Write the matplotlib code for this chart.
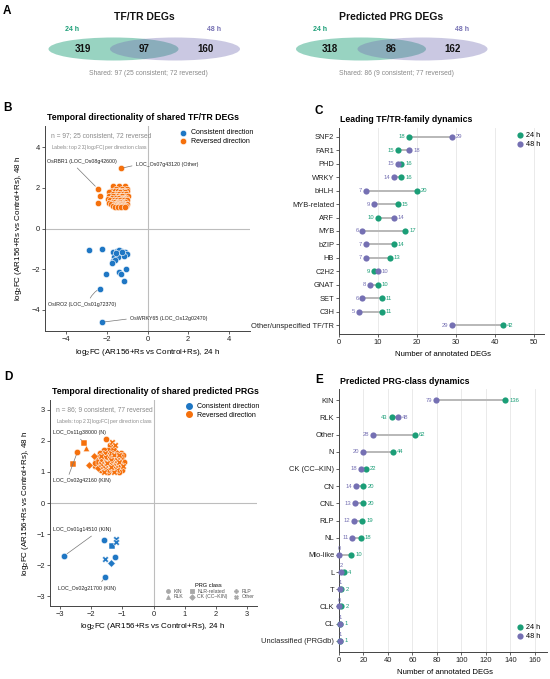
import numpy as np
import matplotlib
matplotlib.use("Agg")
import matplotlib.pyplot as plt
from matplotlib.patches import Ellipse
from matplotlib.lines import Line2D

plt.rcParams['font.family'] = ['Liberation Sans', 'DejaVu Sans']
plt.rcParams['mathtext.default'] = 'regular'

W, H = 550, 679

GREEN = "#1b9e77"
PURPLE = "#7570b3"
BLUE = "#1f77c4"
ORANGE = "#f5700c"
GRAYTXT = "#8a8a8a"

# -------------------------
# DATA
# -------------------------

# A: venn counts
venn_titles = ["TF/TR DEGs", "Predicted PRG DEGs"]
venn_only24 = [319, 318]
venn_shared = [97, 86]
venn_only48 = [160, 162]
venn_consistent = [25, 9]
venn_reversed = [72, 77]

# B: shared TF/TR DEGs, log2FC 24 h (x) vs 48 h (y)
b_cons_x = [-2.90, -2.26, -1.68, -1.51, -1.30, -1.09, -1.43, -1.22, -1.02,
            -1.63, -1.47, -1.71, -1.58, -1.74, -2.04, -1.42, -1.05, -1.30,
            -1.14, -2.34, -2.26, -1.38, -1.18, -1.55, -1.25]
b_cons_y = [-1.05, -1.03, -1.16, -1.13, -1.11, -1.18, -1.28, -1.28, -1.28,
            -1.41, -1.38, -1.61, -1.54, -1.69, -2.23, -2.15, -2.01, -2.26,
            -2.60, -2.96, -4.62, -1.08, -1.35, -1.22, -1.18]
b_rev_x = [-2.45, -2.34, -2.45, -1.33,
           -1.68, -1.40, -1.10,
           -1.55, -1.25, -1.02,
           -1.80, -1.62, -1.45, -1.30, -1.15, -1.00,
           -1.92, -1.35, -1.12,
           -1.70, -1.52, -1.38, -1.20, -1.05,
           -1.88, -1.60, -1.45, -1.30, -1.12, -0.98,
           -1.68, -1.25,
           -1.75, -1.55, -1.40, -1.22, -1.08,
           -1.95, -1.28, -1.12,
           -1.85, -1.65, -1.50, -1.35, -1.18, -1.02,
           -1.72, -1.58, -1.42, -1.28, -1.10,
           -1.90, -1.50, -1.20,
           -1.80, -1.62, -1.48, -1.33, -1.18, -1.02,
           -1.55, -1.40, -1.15,
           -1.70, -1.52, -1.38, -1.22, -1.08,
           -1.60, -1.45, -1.30, -1.12]
b_rev_y = [1.96, 1.61, 1.25, 2.96,
           2.08, 2.08, 2.08,
           1.95, 1.95, 1.95,
           1.85, 1.85, 1.85, 1.85, 1.85, 1.85,
           1.78, 1.78, 1.78,
           1.72, 1.72, 1.72, 1.72, 1.72,
           1.62, 1.62, 1.62, 1.62, 1.62, 1.62,
           1.58, 1.58,
           1.52, 1.52, 1.52, 1.52, 1.52,
           1.47, 1.47, 1.47,
           1.42, 1.42, 1.42, 1.42, 1.42, 1.42,
           1.32, 1.32, 1.32, 1.32, 1.32,
           1.28, 1.28, 1.28,
           1.22, 1.22, 1.22, 1.22, 1.22, 1.22,
           1.17, 1.17, 1.17,
           1.12, 1.12, 1.12, 1.12, 1.12,
           1.04, 1.04, 1.04, 1.04]
# labelled genes: text, point, text position
b_lab_text = ["OsRBR1 (LOC_Os08g42600)", "LOC_Os07g43120 (Other)",
              "OsIRO2 (LOC_Os01g72370)", "OsWRKY65 (LOC_Os12g02470)"]
b_lab_pt = [(-2.45, 1.96), (-1.33, 2.96), (-2.34, -2.96), (-2.26, -4.62)]
b_lab_xy = [(-4.95, 3.29), (-0.56, 3.13), (-4.92, -3.75), (-0.84, -4.44)]

# C: TF/TR families
tf_families = ["SNF2", "FAR1", "PHD", "WRKY", "bHLH", "MYB-related", "ARF",
               "MYB", "bZIP", "HB", "C2H2", "GNAT", "SET", "C3H",
               "Other/unspecified TF/TR"]
tf_24h = [18, 15, 16, 16, 20, 15, 10, 17, 14, 13, 9, 10, 11, 11, 42]
tf_48h = [29, 18, 15, 14, 7, 9, 14, 6, 7, 7, 10, 8, 6, 5, 29]

# D: shared predicted PRGs
prg_marker_names = ["KIN", "RLK", "NLR-related", "CK (CC\u2013KIN)", "RLP", "Other"]
prg_marker_shapes = ["o", "^", "s", "D", "P", "X"]
d_cons_x = [-2.86, -1.55, -1.59, -1.34, -1.21, -1.21, -1.25, -1.55, -1.36]
d_cons_y = [-1.70, -2.38, -1.19, -1.37, -1.15, -1.26, -1.74, -1.82, -1.92]
d_cons_cls = ["KIN", "KIN", "KIN", "NLR-related", "Other", "Other", "KIN",
              "Other", "CK (CC\u2013KIN)"]
d_rev_x = [-2.23, -2.44, -2.59, -2.16, -1.52, -1.91, -2.06,
           -1.32,
           -1.23, -1.40,
           -1.26, -1.45, -1.60,
           -1.72, -1.55, -1.35, -1.18, -1.05,
           -1.62, -1.48, -1.28, -1.10, -0.98,
           -1.78, -1.56, -1.40, -1.22, -1.05,
           -1.85, -1.68, -1.50, -1.35, -1.18, -1.00,
           -1.75, -1.60, -1.42, -1.27, -1.12, -0.95,
           -1.70, -1.52, -1.38, -1.22, -1.06,
           -1.88, -1.62, -1.45, -1.30, -1.15, -0.98,
           -1.78, -1.55, -1.40, -1.25, -1.08,
           -1.68, -1.50, -1.35, -1.18, -1.02,
           -1.60, -1.45, -1.28, -1.10,
           -1.62, -1.28, -1.12,
           -1.88, -1.48, -1.20,
           -1.70, -1.35, -1.20,
           -1.70, -1.35, -1.15]
d_rev_y = [1.94, 1.65, 1.25, 1.76, 2.07, 1.52, 1.22,
           1.97,
           1.86, 1.86,
           1.72, 1.72, 1.72,
           1.62, 1.62, 1.62, 1.62, 1.62,
           1.55, 1.55, 1.55, 1.55, 1.55,
           1.48, 1.48, 1.48, 1.48, 1.48,
           1.40, 1.40, 1.40, 1.40, 1.40, 1.40,
           1.33, 1.33, 1.33, 1.33, 1.33, 1.33,
           1.25, 1.25, 1.25, 1.25, 1.25,
           1.18, 1.18, 1.18, 1.18, 1.18, 1.18,
           1.12, 1.12, 1.12, 1.12, 1.12,
           1.06, 1.06, 1.06, 1.06, 1.06,
           1.00, 1.00, 1.00, 1.00,
           1.43, 1.43, 1.43,
           1.30, 1.30, 1.30,
           1.15, 1.15, 1.15,
           1.52, 1.52, 1.52]
d_rev_cls = ["NLR-related", "KIN", "NLR-related", "RLK", "KIN",
             "CK (CC\u2013KIN)", "CK (CC\u2013KIN)",
             "Other",
             "Other", "KIN",
             "NLR-related", "KIN", "KIN",
             "KIN", "Other", "Other", "CK (CC\u2013KIN)", "KIN",
             "KIN", "NLR-related", "Other", "Other", "KIN",
             "KIN", "Other", "CK (CC\u2013KIN)", "KIN", "NLR-related",
             "KIN", "Other", "KIN", "Other", "Other", "KIN",
             "NLR-related", "KIN", "RLP", "KIN", "Other", "KIN",
             "Other", "KIN", "Other", "CK (CC\u2013KIN)", "KIN",
             "KIN", "Other", "KIN", "Other", "NLR-related", "Other",
             "CK (CC\u2013KIN)", "Other", "KIN", "Other", "KIN",
             "KIN", "Other", "KIN", "Other", "KIN",
             "Other", "KIN", "Other", "KIN",
             "KIN", "KIN", "KIN",
             "KIN", "Other", "KIN",
             "KIN", "Other", "KIN",
             "Other", "KIN", "KIN"]
d_lab_text = ["LOC_Os11g38000 (N)", "LOC_Os02g42160 (KIN)",
              "LOC_Os01g14510 (KIN)", "LOC_Os02g21700 (KIN)"]
d_lab_pt = [(-2.23, 1.94), (-2.44, 1.65), (-2.86, -1.70), (-1.55, -2.38)]
d_lab_xy = [(-3.22, 2.26), (-3.22, 0.71), (-3.23, -0.87), (-3.05, -2.74)]

# E: PRG classes
prg_classes = ["KIN", "RLK", "Other", "N", "CK (CC\u2013KIN)", "CN", "CNL",
               "RLP", "NL", "Mlo-like", "L", "T", "CLK", "CL",
               "Unclassified (PRGdb)"]
prg_24h = [136, 43, 62, 44, 22, 20, 20, 19, 18, 10, 4, 2, 2, 1, 1]
prg_48h = [79, 48, 28, 20, 18, 14, 13, 12, 11, 0, 2, 1, 0, 1, 1]


# -------------------------
# HELPERS
# -------------------------

def px_axes(l, t, r, b):
    return fig.add_axes([l / W, 1 - b / H, (r - l) / W, (b - t) / H])


def ftext(x, y, s, **kw):
    fig.text(x / W, 1 - y / H, s, **kw)


def style_axes(ax):
    for side in ["top", "right"]:
        ax.spines[side].set_visible(False)
    for side in ["left", "bottom"]:
        ax.spines[side].set_linewidth(0.7)
        ax.spines[side].set_color("#444444")
    ax.tick_params(labelsize=5.4, length=2, width=0.5, pad=1.5, colors="#222222")


def dumbbell(ax, cats, v24, v48, xmax, legend_loc, anchor):
    y = np.arange(len(cats))
    for i in range(len(cats)):
        ax.plot([v24[i], v48[i]], [i, i], color="#b8b8b8", lw=1.4,
                zorder=1, solid_capstyle="butt")
    ax.scatter(v24, y, s=20, color=GREEN, zorder=3, label="24 h",
               clip_on=False, linewidths=0)
    ax.scatter(v48, y, s=20, color=PURPLE, zorder=3, label="48 h",
               clip_on=False, linewidths=0)
    for i in range(len(cats)):
        pairs = sorted([(v24[i], 1, GREEN), (v48[i], 0, PURPLE)])
        lo, hi = pairs
        if lo[0] < 0.04 * xmax:
            ax.annotate(str(lo[0]), (lo[0], i), xytext=(0, 2.8),
                        textcoords="offset points", ha="center", va="bottom",
                        fontsize=4.2, color=lo[2])
        else:
            ax.annotate(str(lo[0]), (lo[0], i), xytext=(-2.8, 0),
                        textcoords="offset points", ha="right", va="center",
                        fontsize=4.2, color=lo[2])
        ax.annotate(str(hi[0]), (hi[0], i), xytext=(2.8, 0),
                    textcoords="offset points", ha="left", va="center",
                    fontsize=4.2, color=hi[2])
    ax.set_yticks(y)
    ax.set_yticklabels(cats)
    ax.set_ylim(len(cats) - 0.35, -0.65)
    ax.set_xlim(0, xmax)
    ax.grid(axis="x", color="#e6e6e6", lw=0.6)
    ax.set_axisbelow(True)
    style_axes(ax)
    ax.legend(loc=legend_loc, bbox_to_anchor=anchor, frameon=False,
              fontsize=5.2, handletextpad=0.3, handlelength=1.2,
              labelspacing=0.2, borderaxespad=0.2, markerscale=1.0)


# -------------------------
# FIGURE
# -------------------------

fig = plt.figure(figsize=(W / 100, H / 100), dpi=100)

# ---- A: venns
ax_a = fig.add_axes([0, 1 - 100 / H, 1, 100 / H])
ax_a.set_xlim(0, W)
ax_a.set_ylim(100, 0)
ax_a.axis("off")

venn_cx = [113.5, 361.0]
for k in range(2):
    cx = venn_cx[k]
    ax_a.add_patch(Ellipse((cx, 49), 130, 23, color=GREEN, alpha=0.45, lw=0))
    ax_a.add_patch(Ellipse((cx + 61.5, 49), 130, 23, color=PURPLE, alpha=0.38, lw=0))
    ax_a.text(cx + 30.5, 17, venn_titles[k], ha="center", va="center",
              fontsize=7.5, fontweight="bold", color="#111111")
    ax_a.text(cx - 41, 29.5, "24 h", ha="center", va="center", fontsize=5,
              fontweight="bold", color=GREEN)
    ax_a.text(cx + 101, 29.5, "48 h", ha="center", va="center", fontsize=5,
              fontweight="bold", color=PURPLE)
    ax_a.text(cx - 31, 48.5, str(venn_only24[k]), ha="center", va="center",
              fontsize=7, fontweight="bold", color="#111111")
    ax_a.text(cx + 30.5, 48.5, str(venn_shared[k]), ha="center", va="center",
              fontsize=7, fontweight="bold", color="#111111")
    ax_a.text(cx + 92, 48.5, str(venn_only48[k]), ha="center", va="center",
              fontsize=7, fontweight="bold", color="#111111")
    ax_a.text(cx + 35, 73.5,
              "Shared: %d (%d consistent; %d reversed)"
              % (venn_shared[k], venn_consistent[k], venn_reversed[k]),
              ha="center", va="center", fontsize=4.9, color=GRAYTXT)

# ---- B: TF/TR scatter
ax_b = px_axes(45, 126, 250, 331)
ax_b.axhline(0, color="#bdbdbd", lw=0.8, zorder=0)
ax_b.axvline(0, color="#bdbdbd", lw=0.8, zorder=0)
ax_b.scatter(b_cons_x, b_cons_y, s=21, color=BLUE, edgecolors="white",
             linewidths=0.4, zorder=3, label="Consistent direction")
ax_b.scatter(b_rev_x, b_rev_y, s=21, color=ORANGE, edgecolors="white",
             linewidths=0.4, zorder=3, label="Reversed direction")
b_relpos = [(0.38, 0.0), (0.0, 0.5), (0.6, 1.0), (0.0, 0.5)]
b_rad = [0.0, 0.0, -0.2, 0.0]
for t, pt, xy, rp, rad in zip(b_lab_text, b_lab_pt, b_lab_xy, b_relpos, b_rad):
    ax_b.annotate(t, pt, xytext=xy, ha="left", va="center", fontsize=3.8,
                  color="#222222",
                  arrowprops=dict(arrowstyle="-", color="#777777", lw=0.5,
                                  relpos=rp, shrinkA=1, shrinkB=2.5,
                                  connectionstyle="arc3,rad=%.2f" % rad))
ax_b.set_xlim(-5.05, 5.05)
ax_b.set_ylim(-5.05, 5.05)
ax_b.set_xticks([-4, -2, 0, 2, 4])
ax_b.set_yticks([-4, -2, 0, 2, 4])
style_axes(ax_b)
ax_b.text(0.03, 0.955, "n = 97; 25 consistent, 72 reversed", transform=ax_b.transAxes,
          fontsize=4.8, color=GRAYTXT, va="center")
ax_b.text(0.03, 0.895, "Labels: top 2 \u03a3|log$_2$FC| per direction class",
          transform=ax_b.transAxes, fontsize=3.7, color=GRAYTXT, va="center")
ax_b.legend(loc="upper left", bbox_to_anchor=(0.62, 1.0), frameon=False,
            fontsize=5, handletextpad=0.2, labelspacing=0.15,
            borderaxespad=0.1, markerscale=1.0)
ftext(143, 117.5, "Temporal directionality of shared TF/TR DEGs", ha="center",
      va="center", fontsize=6.3, fontweight="bold")
ftext(19, 228, "log$_2$FC (AR156+Rs vs Control+Rs), 48 h", rotation=90,
      ha="center", va="center", fontsize=5.8)
ftext(148, 352, "log$_2$FC (AR156+Rs vs Control+Rs), 24 h", ha="center",
      va="center", fontsize=5.8)

# ---- C: TF/TR family dumbbell
ax_c = px_axes(339, 128, 544, 334)
dumbbell(ax_c, tf_families, tf_24h, tf_48h, 52.5, "upper right", (1.005, 1.0))
ax_c.set_xticks([0, 10, 20, 30, 40, 50])
ftext(340, 120, "Leading TF/TR-family dynamics", ha="left", va="center",
      fontsize=6.3, fontweight="bold")
ftext(443, 355, "Number of annotated DEGs", ha="center", va="center", fontsize=5.6)

# ---- D: PRG scatter
ax_d = px_axes(50, 400, 257, 606)
ax_d.axhline(0, color="#bdbdbd", lw=0.8, zorder=0)
ax_d.axvline(0, color="#bdbdbd", lw=0.8, zorder=0)
for name, mk in zip(prg_marker_names, prg_marker_shapes):
    for xs, ys, cls, col in [(d_cons_x, d_cons_y, d_cons_cls, BLUE),
                             (d_rev_x, d_rev_y, d_rev_cls, ORANGE)]:
        sx = [x for x, c in zip(xs, cls) if c == name]
        sy = [y for y, c in zip(ys, cls) if c == name]
        if sx:
            ax_d.scatter(sx, sy, s=21 if mk != "D" else 15, marker=mk, color=col,
                         edgecolors="white", linewidths=0.35, zorder=3)
d_relpos = [(0.45, 0.0), (0.25, 1.0), (0.75, 0.0), (0.7, 1.0)]
for t, pt, xy, rp in zip(d_lab_text, d_lab_pt, d_lab_xy, d_relpos):
    ax_d.annotate(t, pt, xytext=xy, ha="left", va="center", fontsize=3.8,
                  color="#222222",
                  arrowprops=dict(arrowstyle="-", color="#777777", lw=0.5,
                                  relpos=rp, shrinkA=1, shrinkB=2.5))
ax_d.set_xlim(-3.32, 3.32)
ax_d.set_ylim(-3.32, 3.32)
ax_d.set_xticks([-3, -2, -1, 0, 1, 2, 3])
ax_d.set_yticks([-3, -2, -1, 0, 1, 2, 3])
style_axes(ax_d)
ax_d.text(0.03, 0.955, "n = 86; 9 consistent, 77 reversed", transform=ax_d.transAxes,
          fontsize=4.8, color=GRAYTXT, va="center")
ax_d.text(0.03, 0.898, "Labels: top 2 \u03a3|log$_2$FC| per direction class",
          transform=ax_d.transAxes, fontsize=3.7, color=GRAYTXT, va="center")
dir_handles = [Line2D([], [], ls="", marker="o", color=BLUE, markersize=4,
                      label="Consistent direction"),
               Line2D([], [], ls="", marker="o", color=ORANGE, markersize=4,
                      label="Reversed direction")]
leg1 = ax_d.legend(handles=dir_handles, loc="upper left", bbox_to_anchor=(0.62, 1.0),
                   frameon=False, fontsize=5, handletextpad=0.2, labelspacing=0.15,
                   borderaxespad=0.1)
ax_d.add_artist(leg1)
cls_handles = [Line2D([], [], ls="", marker=mk, color="#a8a8a8", markersize=2.8,
                      markeredgewidth=0.6, label=name)
               for name, mk in zip(prg_marker_names, prg_marker_shapes)]
ax_d.legend(handles=cls_handles, loc="lower right", bbox_to_anchor=(1.0, 0.02),
            ncol=3, frameon=False, fontsize=3.7, title="PRG class",
            title_fontsize=4.1, handletextpad=0.1, columnspacing=0.6,
            labelspacing=0.1, borderaxespad=0.1, labelcolor="#555555")
ftext(155, 391.5, "Temporal directionality of shared predicted PRGs", ha="center",
      va="center", fontsize=6.3, fontweight="bold")
ftext(26, 503, "log$_2$FC (AR156+Rs vs Control+Rs), 48 h", rotation=90,
      ha="center", va="center", fontsize=5.8)
ftext(153, 626, "log$_2$FC (AR156+Rs vs Control+Rs), 24 h", ha="center",
      va="center", fontsize=5.8)

# ---- E: PRG class dumbbell
ax_e = px_axes(339, 389, 547, 652)
dumbbell(ax_e, prg_classes, prg_24h, prg_48h, 170, "lower right", (0.99, 0.03))
ax_e.set_xticks(np.arange(0, 161, 20))
ftext(340, 381, "Predicted PRG-class dynamics", ha="left", va="center",
      fontsize=6.3, fontweight="bold")
ftext(445, 672, "Number of annotated DEGs", ha="center", va="center", fontsize=5.6)

# ---- panel letters
for letter, x, y in [("A", 7, 11), ("B", 8, 108), ("C", 319, 111),
                     ("D", 8, 377), ("E", 319, 380)]:
    ftext(x, y, letter, ha="center", va="center", fontsize=8.5, fontweight="bold")

fig.savefig("out.png", dpi=100)
